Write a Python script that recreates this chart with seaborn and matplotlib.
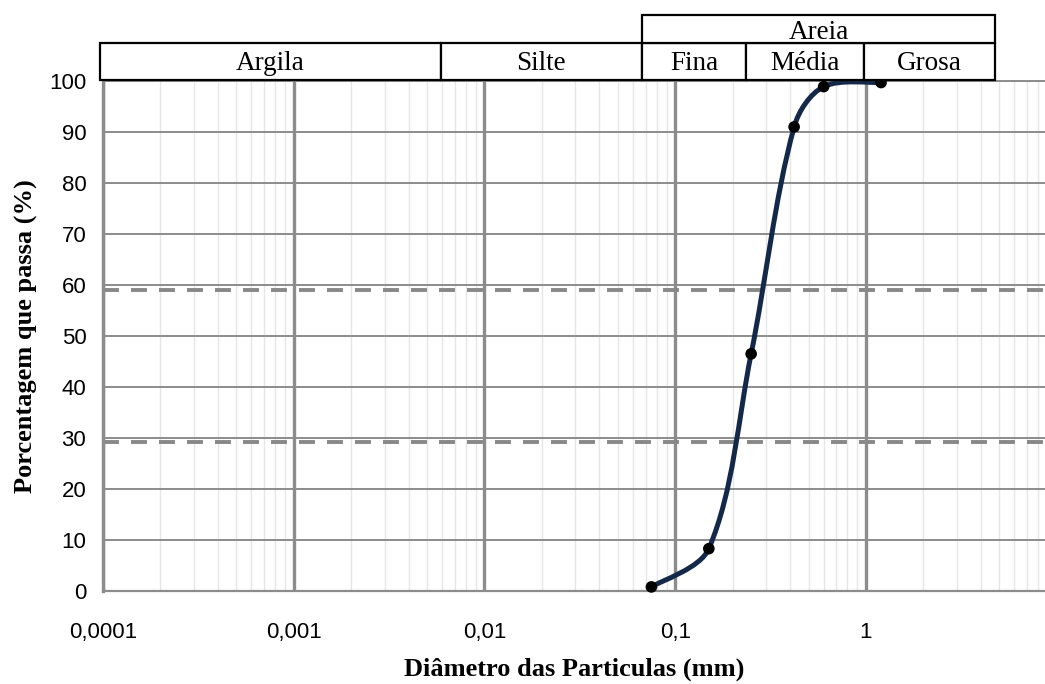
import matplotlib
matplotlib.use("Agg")
import matplotlib.pyplot as plt
import seaborn as sns
import numpy as np
import pandas as pd
from matplotlib.path import Path
from matplotlib.patches import PathPatch, Rectangle
from matplotlib.ticker import FixedLocator, FuncFormatter, LogLocator, NullFormatter
from matplotlib.transforms import blended_transform_factory

# dados da curva granulométrica
diametro_mm = [0.075, 0.15, 0.25, 0.42, 0.6, 1.2]
passa_pct = [0.8, 8.3, 46.5, 91.0, 98.9, 99.7]

# linhas de referência tracejadas
ref_pct = [59.0, 29.2]

# faixas de classificação (limites em mm, usados só para desenhar as caixas)
faixas_nomes = ['Argila', 'Silte', 'Fina', 'Média', 'Grosa']
faixas_limites = [9.65e-5, 0.0059, 0.067, 0.234, 0.976, 4.76]
grupo_nome = 'Areia'

x_ticks = [0.0001, 0.001, 0.01, 0.1, 1]
x_ticklabels = ['0,0001', '0,001', '0,01', '0,1', '1']
y_ticks = list(range(0, 101, 10))

sns.set_theme(style="white")
plt.rcParams['font.family'] = ['Liberation Sans', 'DejaVu Sans']
plt.rcParams['text.color'] = 'black'
plt.rcParams['axes.labelcolor'] = 'black'

grid_cor = '#8c8c8c'
linha_cor = '#14294a'
serif = ['Liberation Serif', 'DejaVu Serif']

fig = plt.figure(figsize=(10.45, 6.84), dpi=100)
ax = fig.add_axes([103 / 1045, 93 / 684, 942 / 1045, 510 / 684])
ax.set_xscale('log')
ax.set_xlim(1e-4, 8.68)
ax.set_ylim(0, 100)

# grade
ax.xaxis.set_major_locator(FixedLocator(x_ticks))
ax.xaxis.set_major_formatter(FuncFormatter(lambda v, p: x_ticklabels[x_ticks.index(v)] if v in x_ticks else ''))
ax.xaxis.set_minor_locator(LogLocator(base=10, subs=np.arange(2, 10)))
ax.xaxis.set_minor_formatter(NullFormatter())
ax.set_yticks(y_ticks)
ax.grid(True, which='minor', axis='x', color='#e6e6e6', linewidth=1.0, zorder=0)
ax.grid(True, which='major', axis='x', color=grid_cor, linewidth=2.4, zorder=1)
ax.grid(True, which='major', axis='y', color=grid_cor, linewidth=1.4, zorder=1)
ax.set_axisbelow(True)

ax.spines['right'].set_visible(False)
for lado in ['left', 'bottom', 'top']:
    ax.spines[lado].set_color(grid_cor)
ax.spines['left'].set_linewidth(2.4)
ax.spines['bottom'].set_linewidth(1.6)
ax.spines['top'].set_linewidth(1.4)

ax.tick_params(axis='both', which='major', direction='out', length=7, width=1.4,
               color=grid_cor, labelsize=16, labelcolor='black')
ax.tick_params(axis='x', which='major', pad=15)
ax.tick_params(axis='y', which='major', pad=5)
ax.tick_params(axis='x', which='minor', length=0)

# linhas tracejadas de referência
for r in ref_pct:
    ax.axhline(r, color='#888888', linewidth=2.8, linestyle=(0, (4.1, 3.1)), zorder=2)

# curva suavizada: Bezier com tangentes ponderadas pelo comprimento das cordas (em pixels)
pts = ax.transData.transform(np.column_stack([diametro_mm, passa_pct]))
n = len(pts)
d = np.hypot(*np.diff(pts, axis=0).T)
verts = [pts[0]]
codes = [Path.MOVETO]
for i in range(n - 1):
    i0 = max(i - 1, 0)
    i3 = min(i + 2, n - 1)
    da = d[i - 1] if i > 0 else d[i]
    db = d[i + 1] if i + 1 < n - 1 else d[i]
    c1 = pts[i] + (pts[i + 1] - pts[i0]) * d[i] / (3 * (da + d[i]))
    c2 = pts[i + 1] - (pts[i3] - pts[i]) * d[i] / (3 * (d[i] + db))
    verts += [c1, c2, pts[i + 1]]
    codes += [Path.CURVE4] * 3
verts_dados = ax.transData.inverted().transform(np.array(verts))
ax.add_patch(PathPatch(Path(verts_dados, codes), facecolor='none', edgecolor=linha_cor,
                       linewidth=3.6, capstyle='round', zorder=3))

df = pd.DataFrame({'d': diametro_mm, 'p': passa_pct})
sns.scatterplot(data=df, x='d', y='p', ax=ax, color='black', s=70, edgecolor='none',
                zorder=4, clip_on=False, legend=False)

ax.set_xlabel('Diâmetro das Particulas (mm)', fontsize=19, fontweight='bold',
              family=serif, labelpad=11)
ax.set_ylabel('Porcentagem que passa (%)', fontsize=19, fontweight='bold',
              family=serif, labelpad=8)

# caixas de classificação acima do gráfico
tr = blended_transform_factory(ax.transData, ax.transAxes)
y1_base, y1_top, y2_top = 1.002, 1.0745, 1.1294
for i, nome in enumerate(faixas_nomes):
    x0, x1 = faixas_limites[i], faixas_limites[i + 1]
    ax.add_patch(Rectangle((x0, y1_base), x1 - x0, y1_top - y1_base, transform=tr,
                           facecolor='white', edgecolor='black', linewidth=1.6,
                           clip_on=False, zorder=5))
    xc = 10 ** ((np.log10(x0) + np.log10(x1)) / 2)
    ax.text(xc, 1.0216, nome, transform=tr, ha='center', va='baseline',
            fontsize=19.5, family=serif, zorder=6)

a0, a1 = faixas_limites[2], faixas_limites[5]
ax.add_patch(Rectangle((a0, y1_top), a1 - a0, y2_top - y1_top, transform=tr,
                       facecolor='white', edgecolor='black', linewidth=1.6,
                       clip_on=False, zorder=5))
ax.text(10 ** ((np.log10(a0) + np.log10(a1)) / 2), 1.0818, grupo_nome, transform=tr,
        ha='center', va='baseline', fontsize=19.5, family=serif, zorder=6)

fig.savefig('out.png', dpi=100)
